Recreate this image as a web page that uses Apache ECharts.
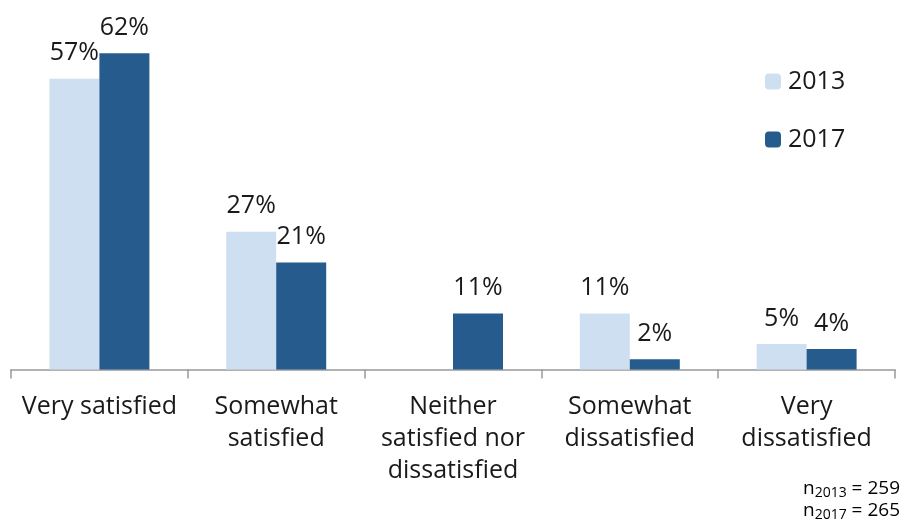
<!DOCTYPE html>
<html><head><meta charset="utf-8">
<script src="https://cdn.jsdelivr.net/npm/echarts@6/dist/echarts.min.js"></script>
<style>html,body{margin:0;padding:0;background:#fff}#c{width:905px;height:526px}</style>
</head><body><div id="c"></div>
<script>
const categories = ['Very satisfied', 'Somewhat\nsatisfied', 'Neither\nsatisfied nor\ndissatisfied', 'Somewhat\ndissatisfied', 'Very\ndissatisfied'];
const values2013 = [57, 27, null, 11, 5];
const values2017 = [62, 21, 11, 2, 4];
const seriesNames = ['2013', '2017'];
const FONT = 'Open Sans';
const chart = echarts.init(document.getElementById('c'));
const lbl = {show: true, position: 'top', distance: 13, color: '#1a1a1a', fontFamily: FONT, fontSize: 25,
  formatter: p => p.value == null ? '' : p.value + '%'};
chart.setOption({
  animation: false,
  grid: {left: 11, right: 10, top: 12.5, bottom: 156.5},
  legend: {orient: 'vertical', left: 760, top: 64, itemWidth: 16, itemHeight: 16, itemGap: 33,
    textStyle: {fontFamily: FONT, fontSize: 25, color: '#1a1a1a', padding: [0, 0, 0, 2]},
    data: seriesNames},
  xAxis: {type: 'category', data: categories,
    axisLine: {lineStyle: {color: '#999', width: 1.5}},
    axisTick: {show: true, length: 9, lineStyle: {color: '#999', width: 1.5}},
    axisLabel: {fontFamily: FONT, fontSize: 25, color: '#1a1a1a', margin: 21, lineHeight: 32, interval: 0}},
  yAxis: {type: 'value', min: 0, max: 70, show: false, splitLine: {show: false}},
  series: [
    {name: seriesNames[0], type: 'bar', data: values2013, barWidth: 50, barGap: '0%', itemStyle: {color: '#cfdff2'}, label: lbl},
    {name: seriesNames[1], type: 'bar', data: values2017, barWidth: 50, itemStyle: {color: '#265b8e'}, label: lbl}
  ],
  graphic: [{type: 'text', right: 5, top: 477, style: {
    text: '{n|n}{s|2013}{n| = 259}\n{n|n}{s|2017}{n| = 265}', align: 'right',
    rich: {n: {fontFamily: FONT, fontSize: 19, color: '#1a1a1a', lineHeight: 22},
           s: {fontFamily: FONT, fontSize: 14, color: '#1a1a1a', verticalAlign: 'bottom', padding: [9, 0, 0, 0], lineHeight: 22}}}}]
});
</script></body></html>
